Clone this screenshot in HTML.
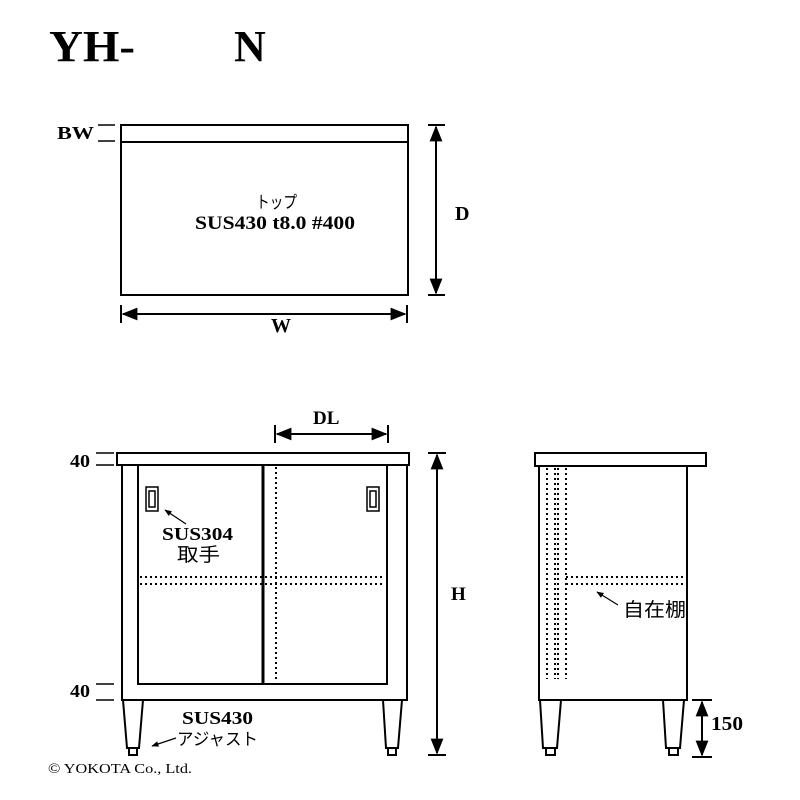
<!DOCTYPE html>
<html><head><meta charset="utf-8"><style>
html,body{margin:0;padding:0;background:#fff}
svg{display:block}
.s{font-family:"Liberation Serif",serif;font-weight:bold}
.j{font-family:"Liberation Sans","Noto Sans CJK JP",sans-serif}
</style></head><body>
<svg width="800" height="800" viewBox="0 0 800 800" xmlns="http://www.w3.org/2000/svg">
<defs>
<marker id="a" viewBox="0 0 10 10" refX="9" refY="5" markerWidth="8" markerHeight="8" orient="auto-start-reverse"><path d="M0,1 L10,5 L0,9 Z" fill="#000"/></marker>
<marker id="b" viewBox="0 0 10 10" refX="9" refY="5" markerWidth="6" markerHeight="6" orient="auto"><path d="M0,1 L10,5 L0,9 Z" fill="#000"/></marker>
</defs>
<text x="49" y="61" class="s" font-size="44" textLength="86" lengthAdjust="spacingAndGlyphs">YH-</text>
<text x="234" y="61" class="s" font-size="44">N</text>

<!-- top view -->
<g fill="none" stroke="#000" stroke-width="2">
<rect x="121" y="125" width="287" height="170"/>
<line x1="121" y1="142" x2="408" y2="142"/>
<line x1="98" y1="125" x2="115" y2="125" stroke-width="1.5"/>
<line x1="98" y1="141" x2="115" y2="141" stroke-width="1.5"/>
<line x1="428" y1="125" x2="445" y2="125"/>
<line x1="428" y1="295" x2="445" y2="295"/>
<line x1="436" y1="127" x2="436" y2="293" marker-start="url(#a)" marker-end="url(#a)"/>
<line x1="121" y1="305" x2="121" y2="323"/>
<line x1="407" y1="305" x2="407" y2="323"/>
<line x1="123" y1="314" x2="405" y2="314" marker-start="url(#a)" marker-end="url(#a)"/>
</g>
<text x="57" y="139" class="s" font-size="18" textLength="37" lengthAdjust="spacingAndGlyphs">BW</text>
<text x="455" y="220" class="s" font-size="20">D</text>
<text x="271" y="332" class="s" font-size="20">W</text>
<text x="256" y="208" class="j" font-size="17" textLength="41" lengthAdjust="spacingAndGlyphs">トップ</text>
<text x="195" y="229" class="s" font-size="19" textLength="160" lengthAdjust="spacingAndGlyphs">SUS430 t8.0 #400</text>

<!-- front view -->
<g fill="none" stroke="#000" stroke-width="2">
<line x1="275" y1="425" x2="275" y2="443"/>
<line x1="388" y1="425" x2="388" y2="443"/>
<line x1="277" y1="434" x2="386" y2="434" marker-start="url(#a)" marker-end="url(#a)"/>
<rect x="117" y="453" width="292" height="12"/>
<rect x="122" y="465" width="285" height="235"/>
<rect x="138" y="465" width="249" height="219"/>
<line x1="263" y1="465" x2="263" y2="684" stroke-width="3"/>
<line x1="276" y1="467" x2="276" y2="682" stroke-dasharray="2,3"/>
<line x1="140" y1="577" x2="385" y2="577" stroke-dasharray="2,3"/>
<line x1="140" y1="584" x2="385" y2="584" stroke-dasharray="2,3"/>
<rect x="146" y="487" width="12" height="24" stroke-width="1.5"/>
<rect x="149" y="491" width="6" height="16" stroke-width="1.5"/>
<rect x="367" y="487" width="12" height="24" stroke-width="1.5"/>
<rect x="370" y="491" width="6" height="16" stroke-width="1.5"/>
<path d="M123,700 L127,748 L139,748 L143,700"/>
<rect x="129" y="748" width="8" height="7"/>
<path d="M383,700 L386,748 L398,748 L402,700"/>
<rect x="388" y="748" width="8" height="7"/>
<line x1="96" y1="453" x2="114" y2="453" stroke-width="1.5"/>
<line x1="96" y1="465" x2="114" y2="465" stroke-width="1.5"/>
<line x1="96" y1="684" x2="114" y2="684" stroke-width="1.5"/>
<line x1="96" y1="700" x2="114" y2="700" stroke-width="1.5"/>
<line x1="428" y1="453" x2="446" y2="453"/>
<line x1="428" y1="755" x2="446" y2="755"/>
<line x1="437" y1="455" x2="437" y2="753" marker-start="url(#a)" marker-end="url(#a)"/>
<line x1="186" y1="524" x2="165" y2="510" stroke-width="1.2" marker-end="url(#b)"/>
<line x1="176" y1="738" x2="152" y2="746" stroke-width="1.2" marker-end="url(#b)"/>
</g>
<text x="313" y="424" class="s" font-size="19">DL</text>
<text x="70" y="467" class="s" font-size="18" textLength="20" lengthAdjust="spacingAndGlyphs">40</text>
<text x="70" y="697" class="s" font-size="18" textLength="20" lengthAdjust="spacingAndGlyphs">40</text>
<text x="451" y="600" class="s" font-size="19">H</text>
<text x="162" y="540" class="s" font-size="18" textLength="71" lengthAdjust="spacingAndGlyphs">SUS304</text>
<text x="177" y="561" class="j" font-size="19" textLength="43" lengthAdjust="spacingAndGlyphs">取手</text>
<text x="182" y="724" class="s" font-size="18" textLength="71" lengthAdjust="spacingAndGlyphs">SUS430</text>
<text x="177" y="745" class="j" font-size="17" textLength="81" lengthAdjust="spacingAndGlyphs">アジャスト</text>
<text x="48" y="773" font-family="Liberation Serif,serif" font-size="14" textLength="144" lengthAdjust="spacingAndGlyphs">© YOKOTA Co., Ltd.</text>

<!-- side view -->
<g fill="none" stroke="#000" stroke-width="2">
<rect x="535" y="453" width="171" height="13"/>
<rect x="539" y="466" width="148" height="234"/>
<line x1="547" y1="468" x2="547" y2="679" stroke-dasharray="2,3"/>
<line x1="555" y1="468" x2="555" y2="679" stroke-dasharray="2,3"/>
<line x1="558" y1="468" x2="558" y2="679" stroke-dasharray="2,3"/>
<line x1="566" y1="468" x2="566" y2="679" stroke-dasharray="2,3"/>
<line x1="566" y1="577" x2="684" y2="577" stroke-dasharray="2,3"/>
<line x1="566" y1="584" x2="684" y2="584" stroke-dasharray="2,3"/>
<line x1="618" y1="605" x2="597" y2="592" stroke-width="1.2" marker-end="url(#b)"/>
<path d="M540,700 L543,748 L557,748 L561,700"/>
<rect x="546" y="748" width="9" height="7"/>
<path d="M663,700 L666,748 L680,748 L684,700"/>
<rect x="669" y="748" width="9" height="7"/>
<line x1="692" y1="700" x2="712" y2="700"/>
<line x1="692" y1="757" x2="712" y2="757"/>
<line x1="702" y1="702" x2="702" y2="755" marker-start="url(#a)" marker-end="url(#a)"/>
</g>
<text x="623" y="616" class="j" font-size="19" textLength="63" lengthAdjust="spacingAndGlyphs">自在棚</text>
<text x="711" y="730" class="s" font-size="20" textLength="32" lengthAdjust="spacingAndGlyphs">150</text>
</svg>
</body></html>
